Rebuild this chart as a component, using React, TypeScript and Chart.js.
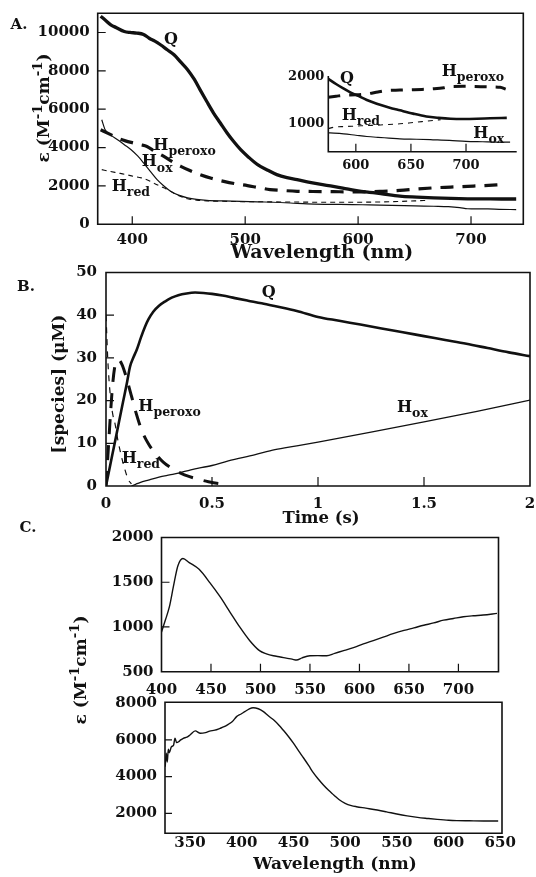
import { useEffect, useRef } from "react";
import { Chart, registerables } from "chart.js";

Chart.register(...registerables);

const PAGE_W = 536;
const PAGE_H = 877;
const SERIF = '"DejaVu Serif", "Liberation Serif", serif';
const INK = "#111";

// ===== Panel A (main) =====
const A_X_TICKS = [400, 500, 600, 700];
const A_Y_TICKS = [0, 2000, 4000, 6000, 8000, 10000];
const A_Q_NM = [372, 376, 381, 386, 393, 398, 404, 410, 415, 420, 425, 431, 437, 443, 449, 455, 460, 466, 472, 478, 484, 490, 496, 503, 511, 520, 528, 537, 546, 556, 566, 578, 590, 600, 610, 620, 637, 652, 667, 682, 697, 712, 727, 740];
const A_Q_EPS = [10850, 10650, 10400, 10250, 10050, 10000, 9970, 9900, 9700, 9550, 9360, 9100, 8840, 8450, 8060, 7550, 7020, 6400, 5800, 5280, 4760, 4300, 3890, 3500, 3110, 2820, 2590, 2430, 2330, 2200, 2090, 1980, 1850, 1740, 1670, 1600, 1470, 1420, 1380, 1350, 1330, 1325, 1320, 1320];
const A_PER_NM = [372, 380, 387, 394, 401, 407, 413, 420, 428, 435, 443, 451, 460, 470, 481, 491, 502, 512, 522, 534, 546, 560, 578, 595, 608, 622, 637, 652, 667, 682, 697, 712, 729];
const A_PER_EPS = [4930, 4700, 4500, 4350, 4240, 4150, 4060, 3800, 3540, 3280, 3020, 2800, 2590, 2400, 2240, 2120, 2020, 1910, 1810, 1760, 1720, 1710, 1700, 1690, 1690, 1720, 1770, 1840, 1900, 1940, 1980, 2020, 2070];
const A_OX_NM = [373, 376, 381, 387, 393, 399, 405, 410, 416, 422, 428, 434, 441, 449, 457, 466, 480, 496, 511, 525, 540, 555, 575, 595, 610, 630, 650, 667, 680, 690, 697, 705, 715, 725, 740];
const A_OX_EPS = [5450, 4930, 4650, 4410, 4150, 3890, 3550, 3200, 2760, 2330, 2000, 1720, 1520, 1380, 1300, 1250, 1220, 1200, 1170, 1150, 1110, 1060, 1040, 1030, 1010, 990, 960, 940, 920, 870, 810, 800, 800, 780, 770];
const A_RED_NM = [373, 380, 387, 394, 401, 408, 414, 420, 428, 435, 442, 449, 457, 466, 480, 500, 520, 545, 570, 595, 615, 635, 650, 662];
const A_RED_EPS = [2850, 2760, 2680, 2600, 2500, 2420, 2300, 2120, 1900, 1680, 1480, 1330, 1260, 1220, 1200, 1180, 1170, 1160, 1150, 1150, 1160, 1190, 1220, 1250];

// ===== Panel A (inset) =====
const I_X_TICKS = [600, 650, 700];
const I_Y_TICKS = [1000, 2000];
const I_Q_NM = [575, 582, 589, 595, 601, 610, 619, 630, 640, 652, 664, 675, 686, 698, 710, 722, 737];
const I_Q_EPS = [1950, 1840, 1740, 1660, 1600, 1500, 1420, 1340, 1280, 1210, 1150, 1120, 1100, 1095, 1100, 1110, 1120];
const I_PER_NM = [575, 582, 589, 600, 610, 620, 628, 640, 649, 660, 670, 680, 686, 697, 707, 720, 731, 736];
const I_PER_EPS = [1560, 1580, 1600, 1610, 1630, 1670, 1700, 1710, 1717, 1725, 1738, 1760, 1787, 1790, 1787, 1780, 1770, 1730];
const I_RED_NM = [575, 580, 590, 600, 610, 620, 630, 640, 650, 660, 670, 677];
const I_RED_EPS = [890, 920, 935, 945, 957, 965, 980, 993, 1015, 1040, 1064, 1080];
const I_OX_NM = [575, 580, 589, 600, 610, 620, 630, 640, 655, 670, 685, 700, 715, 728, 740];
const I_OX_EPS = [800, 795, 780, 750, 723, 705, 690, 674, 665, 653, 640, 620, 612, 605, 602];

// ===== Panel B =====
const B_X_TICKS = [0, 0.5, 1, 1.5, 2];
const B_Y_TICKS = [0, 10, 20, 30, 40, 50];
const B_Q_T = [0, 0.02, 0.04, 0.06, 0.08, 0.1, 0.113, 0.13, 0.145, 0.165, 0.184, 0.2, 0.223, 0.25, 0.278, 0.31, 0.341, 0.38, 0.42, 0.46, 0.5, 0.55, 0.608, 0.67, 0.734, 0.8, 0.9, 1.0, 1.1, 1.2, 1.3, 1.4, 1.5, 1.6, 1.7, 1.8, 1.9, 2.0];
const B_Q_C = [0, 4.9, 9.8, 14.7, 19.6, 24.5, 27.9, 30.2, 31.9, 34.8, 37.3, 39, 40.8, 42.2, 43.2, 44.1, 44.7, 45.1, 45.3, 45.2, 45, 44.6, 44, 43.4, 42.8, 42.1, 41, 39.6, 38.7, 37.8, 36.9, 36, 35.1, 34.2, 33.3, 32.3, 31.3, 30.4];
const B_OX_T = [0.12, 0.14, 0.16, 0.2, 0.25, 0.3, 0.341, 0.4, 0.5, 0.577, 0.7, 0.797, 0.9, 1.0, 1.25, 1.5, 1.75, 2.0];
const B_OX_C = [0, 0.4, 0.8, 1.4, 2.1, 2.6, 3.0, 3.8, 4.8, 5.9, 7.3, 8.5, 9.4, 10.3, 12.6, 15, 17.5, 20.1];
const B_PER_T = [0, 0.01, 0.02, 0.03, 0.04, 0.05, 0.06, 0.075, 0.09, 0.105, 0.121, 0.14, 0.168, 0.2, 0.231, 0.27, 0.325, 0.37, 0.42, 0.483, 0.53, 0.58];
const B_PER_C = [0, 8, 16, 23, 27.5, 29.3, 29.5, 28.5, 26.4, 23.8, 20.9, 17.4, 13.1, 9.9, 7.7, 5.6, 3.7, 2.6, 1.8, 1.0, 0.6, 0.4];
const B_RED_T = [0, 0.004, 0.008, 0.012, 0.018, 0.025, 0.033, 0.042, 0.055, 0.07, 0.09, 0.105, 0.12];
const B_RED_C = [40, 35, 30, 26.5, 22.5, 19, 16.5, 14.7, 11, 7.5, 3.7, 1.5, 0.5];

// ===== Panel C (top) =====
const C1_X_TICKS = [400, 450, 500, 550, 600, 650, 700];
const C1_Y_TICKS = [500, 1000, 1500, 2000];
const C1_NM = [400, 404, 408, 412, 416.5, 421.6, 428, 438, 449, 459, 469, 479, 489, 499, 506, 513, 520, 526, 532, 536.5, 542, 550, 558, 567, 575, 584, 594, 604, 614, 624, 634, 645, 655, 665, 675, 685, 695, 705, 715, 725, 739];
const C1_EPS = [943, 1080, 1227, 1450, 1682, 1766, 1720, 1644, 1493, 1341, 1170, 1000, 849, 735, 700, 678, 665, 652, 640, 630, 655, 678, 680, 678, 705, 735, 770, 811, 848, 886, 925, 962, 990, 1019, 1045, 1076, 1095, 1114, 1125, 1133, 1152];

// ===== Panel C (bottom) =====
const C2_X_TICKS = [350, 400, 450, 500, 550, 600, 650];
const C2_Y_TICKS = [2000, 4000, 6000, 8000];
const C2_NM = [326, 327, 328, 329, 330, 332, 334, 335.5, 337, 339, 341, 343.5, 347, 350, 355, 360, 365, 369, 374, 379, 383, 387, 391, 395, 399, 403, 407, 411, 416, 421, 426, 431, 436, 440, 445, 450, 455, 460, 465, 469, 474, 479, 484, 489, 494, 500, 506, 511, 520, 531, 540, 550, 560, 570, 580, 589, 600, 608, 620, 634, 648];
const C2_EPS = [4540, 5270, 4800, 5500, 5300, 5630, 5700, 6090, 5850, 5900, 6000, 6090, 6150, 6270, 6490, 6360, 6400, 6480, 6530, 6630, 6720, 6850, 7000, 7270, 7400, 7540, 7680, 7755, 7700, 7540, 7300, 7080, 6800, 6540, 6200, 5820, 5400, 5000, 4580, 4230, 3870, 3540, 3250, 3000, 2750, 2545, 2420, 2360, 2280, 2180, 2080, 1960, 1860, 1780, 1720, 1670, 1620, 1600, 1590, 1580, 1580];

// ---------------------------------------------------------------
type Seg = { t: string; s?: "sub" | "sup" };
type Txt = { x: number; y: number; segs: Seg[]; size: number; center?: boolean; rot?: boolean };
type Panel = {
  area: { left: number; top: number; right: number; bottom: number };
  xr: [number, number];
  yr: [number, number];
  xTicks: number[];
  yTicks: number[];
  font: number;
  xPad: number;
  yPad: number;
  frame: boolean;
  xTickLen: number;
  yTickLen: number;
  datasets: any[];
  texts: Txt[];
};

const X_AXIS_H = 40;

function series(xs: number[], ys: number[], width: number, dash: number[] = []) {
  return {
    data: xs.map((x, i) => ({ x, y: ys[i] })),
    borderColor: INK,
    borderWidth: width,
    borderDash: dash,
    pointRadius: 0,
    fill: false,
    cubicInterpolationMode: "monotone",
  };
}

const H = (sub: string): Seg[] => [{ t: "H" }, { t: sub, s: "sub" }];
const EPS_TITLE: Seg[] = [{ t: "ε (M" }, { t: "-1", s: "sup" }, { t: "cm" }, { t: "-1", s: "sup" }, { t: ")" }];

function drawRich(ctx: CanvasRenderingContext2D, item: Txt) {
  const small = item.size * 0.78;
  ctx.save();
  ctx.translate(item.x, item.y);
  if (item.rot) ctx.rotate(-Math.PI / 2);
  ctx.textBaseline = "middle";
  ctx.textAlign = "left";
  ctx.fillStyle = INK;
  let total = 0;
  const widths = item.segs.map((sg) => {
    ctx.font = `bold ${sg.s ? small : item.size}px ${SERIF}`;
    const w = ctx.measureText(sg.t).width;
    total += w;
    return w;
  });
  let x = item.center ? -total / 2 : 0;
  item.segs.forEach((sg, i) => {
    ctx.font = `bold ${sg.s ? small : item.size}px ${SERIF}`;
    const dy = sg.s === "sub" ? item.size * 0.38 : sg.s === "sup" ? -item.size * 0.4 : 0;
    ctx.fillText(sg.t, x, dy);
    x += widths[i];
  });
  ctx.restore();
}

function decorPlugin(p: Panel) {
  return {
    id: "decor",
    afterDatasetsDraw(chart: any) {
      const ctx: CanvasRenderingContext2D = chart.ctx;
      const { left, top, right, bottom } = chart.chartArea;
      ctx.save();
      ctx.strokeStyle = INK;
      ctx.lineWidth = 1.6;
      ctx.beginPath();
      if (p.frame) {
        ctx.rect(left, top, right - left, bottom - top);
      } else {
        ctx.moveTo(left, top);
        ctx.lineTo(left, bottom);
        ctx.lineTo(right, bottom);
      }
      ctx.stroke();
      ctx.lineWidth = 1.2;
      ctx.beginPath();
      const xs = chart.scales.x;
      const ys = chart.scales.y;
      if (p.xTickLen) {
        for (const v of p.xTicks) {
          const px = xs.getPixelForValue(v);
          if (px - left < 2 || right - px < 2) continue;
          ctx.moveTo(px, bottom);
          ctx.lineTo(px, bottom - p.xTickLen);
        }
      }
      if (p.yTickLen) {
        for (const v of p.yTicks) {
          const py = ys.getPixelForValue(v);
          if (bottom - py < 2 || py - top < 2) continue;
          ctx.moveTo(left, py);
          ctx.lineTo(left + p.yTickLen, py);
        }
      }
      ctx.stroke();
      ctx.restore();
      for (const t of p.texts) drawRich(ctx, t);
    },
  };
}

function buildChart(canvas: HTMLCanvasElement, p: Panel) {
  const tickFont = { family: SERIF, size: p.font, weight: "bold" as const };
  return new Chart(canvas, {
    type: "line",
    data: { datasets: p.datasets },
    options: {
      animation: false,
      responsive: false,
      maintainAspectRatio: false,
      devicePixelRatio: 1,
      events: [],
      layout: {
        autoPadding: false,
        padding: {
          left: 0,
          top: p.area.top,
          right: PAGE_W - p.area.right,
          bottom: PAGE_H - p.area.bottom - X_AXIS_H,
        },
      },
      plugins: { legend: { display: false }, tooltip: { enabled: false }, title: { display: false } },
      elements: { point: { radius: 0 } },
      scales: {
        x: {
          type: "linear",
          min: p.xr[0],
          max: p.xr[1],
          grid: { display: false, drawTicks: false },
          border: { display: false },
          ticks: {
            color: INK,
            font: tickFont,
            padding: p.xPad,
            maxRotation: 0,
            autoSkip: false,
            callback: (v: any) => String(v),
          },
          afterBuildTicks: (s: any) => {
            s.ticks = p.xTicks.map((v) => ({ value: v }));
          },
          afterFit: (s: any) => {
            s.height = X_AXIS_H;
            s.paddingLeft = 0;
            s.paddingRight = 0;
          },
        },
        y: {
          type: "linear",
          min: p.yr[0],
          max: p.yr[1],
          grid: { display: false, drawTicks: false },
          border: { display: false },
          ticks: {
            color: INK,
            font: tickFont,
            padding: p.yPad,
            autoSkip: false,
            callback: (v: any) => String(v),
          },
          afterBuildTicks: (s: any) => {
            s.ticks = p.yTicks.map((v) => ({ value: v }));
          },
          afterFit: (s: any) => {
            s.width = p.area.left;
            s.paddingTop = 0;
            s.paddingBottom = 0;
          },
        },
      },
    } as any,
    plugins: [decorPlugin(p)],
  });
}

const PANELS: Panel[] = [
  {
    area: { left: 97.7, top: 13.3, right: 523.3, bottom: 224.3 },
    xr: [369.4, 746.3],
    yr: [0, 11000],
    xTicks: A_X_TICKS,
    yTicks: A_Y_TICKS,
    font: 15,
    xPad: 7,
    yPad: 8,
    frame: true,
    xTickLen: 8,
    yTickLen: 8,
    datasets: [
      series(A_Q_NM, A_Q_EPS, 3.3),
      series(A_PER_NM, A_PER_EPS, 3.2, [13, 9]),
      series(A_OX_NM, A_OX_EPS, 1.2),
      series(A_RED_NM, A_RED_EPS, 1.1, [5, 4]),
    ],
    texts: [
      { x: 19, y: 25.5, segs: [{ t: "A." }], size: 15, center: true },
      { x: 45, y: 108, segs: EPS_TITLE, size: 17, center: true, rot: true },
      { x: 322, y: 253, segs: [{ t: "Wavelength (nm)" }], size: 19, center: true },
      { x: 164, y: 40, segs: [{ t: "Q" }], size: 16 },
      { x: 153.3, y: 146, segs: H("peroxo"), size: 16 },
      { x: 141.7, y: 162.3, segs: H("ox"), size: 16 },
      { x: 111.7, y: 186.7, segs: H("red"), size: 16 },
    ],
  },
  {
    area: { left: 328.3, top: 76, right: 516.7, bottom: 151.7 },
    xr: [575, 746],
    yr: [400, 2010],
    xTicks: I_X_TICKS,
    yTicks: I_Y_TICKS,
    font: 13,
    xPad: 6,
    yPad: 4,
    frame: false,
    xTickLen: 8,
    yTickLen: 0,
    datasets: [
      series(I_Q_NM, I_Q_EPS, 2.6),
      series(I_PER_NM, I_PER_EPS, 3, [12, 9]),
      series(I_OX_NM, I_OX_EPS, 1.2),
      series(I_RED_NM, I_RED_EPS, 1.1, [5, 5]),
    ],
    texts: [
      { x: 340, y: 79, segs: [{ t: "Q" }], size: 16 },
      { x: 441.7, y: 72, segs: H("peroxo"), size: 16 },
      { x: 341.7, y: 116, segs: H("red"), size: 16 },
      { x: 473.3, y: 134, segs: H("ox"), size: 16 },
    ],
  },
  {
    area: { left: 106, top: 272.5, right: 530, bottom: 486 },
    xr: [0, 2],
    yr: [0, 50],
    xTicks: B_X_TICKS,
    yTicks: B_Y_TICKS,
    font: 15,
    xPad: 9,
    yPad: 9,
    frame: true,
    xTickLen: 9,
    yTickLen: 8,
    datasets: [
      series(B_Q_T, B_Q_C, 2.6),
      series(B_PER_T, B_PER_C, 3, [15, 11]),
      series(B_OX_T, B_OX_C, 1.3),
      series(B_RED_T, B_RED_C, 1.2, [6, 6]),
    ],
    texts: [
      { x: 26, y: 287, segs: [{ t: "B." }], size: 15, center: true },
      { x: 60, y: 384, segs: [{ t: "[species] (μM)" }], size: 17, center: true, rot: true },
      { x: 321, y: 519, segs: [{ t: "Time (s)" }], size: 16.5, center: true },
      { x: 261.7, y: 293.3, segs: [{ t: "Q" }], size: 16 },
      { x: 138.3, y: 406.7, segs: H("peroxo"), size: 16 },
      { x: 121.7, y: 459, segs: H("red"), size: 16 },
      { x: 397, y: 408, segs: H("ox"), size: 16 },
    ],
  },
  {
    area: { left: 161.5, top: 537.5, right: 498.5, bottom: 671.7 },
    xr: [400, 740.5],
    yr: [500, 2000],
    xTicks: C1_X_TICKS,
    yTicks: C1_Y_TICKS,
    font: 15,
    xPad: 9,
    yPad: 8,
    frame: true,
    xTickLen: 8,
    yTickLen: 8,
    datasets: [series(C1_NM, C1_EPS, 1.4)],
    texts: [
      { x: 28, y: 528, segs: [{ t: "C." }], size: 15, center: true },
      { x: 82, y: 670, segs: EPS_TITLE, size: 17, center: true, rot: true },
    ],
  },
  {
    area: { left: 165, top: 702.3, right: 502, bottom: 833.3 },
    xr: [325.8, 651.7],
    yr: [910, 8050],
    xTicks: C2_X_TICKS,
    yTicks: C2_Y_TICKS,
    font: 15,
    xPad: 1,
    yPad: 8,
    frame: true,
    xTickLen: 0,
    yTickLen: 7,
    datasets: [series(C2_NM, C2_EPS, 1.4)],
    texts: [{ x: 335, y: 865, segs: [{ t: "Wavelength (nm)" }], size: 17, center: true }],
  },
];

export default function App() {
  const refs = useRef<(HTMLCanvasElement | null)[]>([]);
  useEffect(() => {
    const charts = PANELS.map((p, i) => buildChart(refs.current[i] as HTMLCanvasElement, p));
    return () => charts.forEach((c) => c.destroy());
  }, []);
  return (
    <div
      style={{
        position: "absolute",
        left: 0,
        top: 0,
        width: PAGE_W,
        height: PAGE_H,
        overflow: "hidden",
        background: "#fff",
      }}
    >
      {PANELS.map((_, i) => (
        <canvas
          key={i}
          ref={(el) => {
            refs.current[i] = el;
          }}
          width={PAGE_W}
          height={PAGE_H}
          style={{ position: "absolute", left: 0, top: 0, width: PAGE_W, height: PAGE_H }}
        />
      ))}
    </div>
  );
}
